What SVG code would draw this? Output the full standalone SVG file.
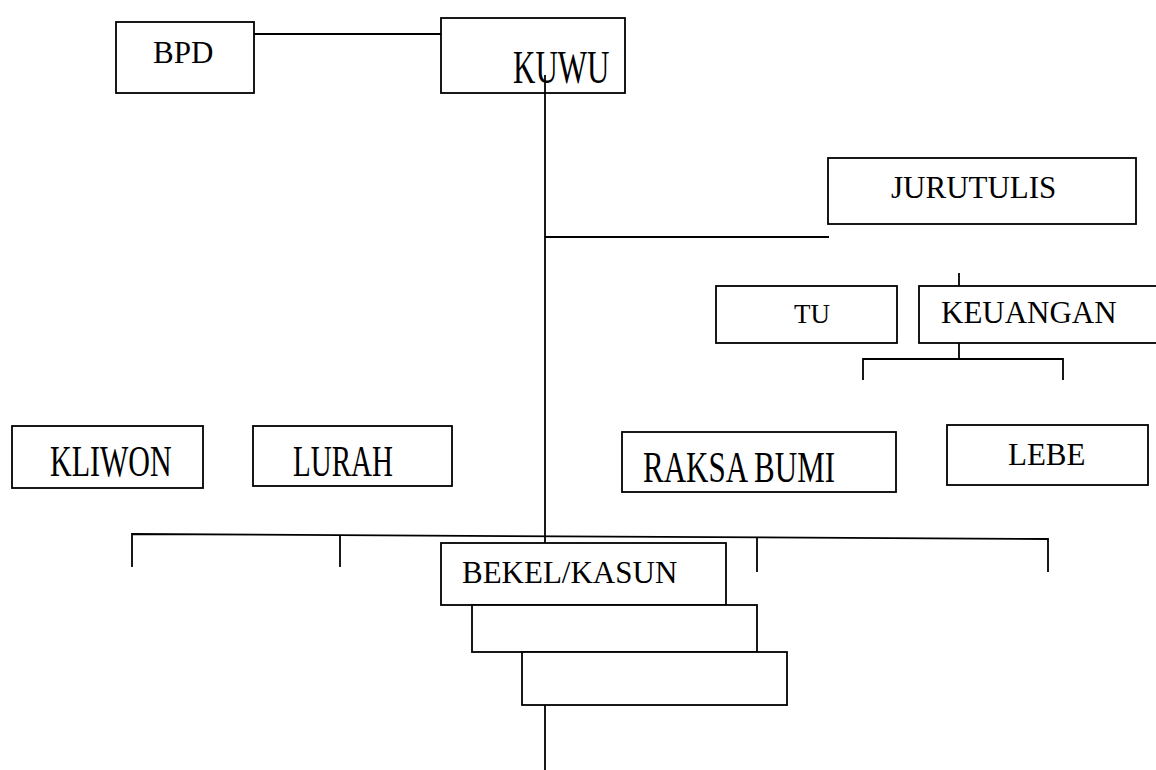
<svg xmlns="http://www.w3.org/2000/svg" width="1156" height="770" viewBox="0 0 1156 770">
<style>
.box{fill:#fff;stroke:#000;stroke-width:1.8}
.ln{fill:none;stroke:#000;stroke-width:1.8}
.t{font-family:"Liberation Serif","DejaVu Serif",serif;font-size:31px;fill:#000}
</style>
<rect width="1156" height="770" fill="#fff"/>
<g id="bpd"><rect class="box" x="116" y="22" width="138" height="71"/><text class="t" x="153" y="63">BPD</text></g>
<g id="kuwu"><rect class="box" x="441" y="18" width="184" height="75"/><text class="t" transform="translate(513,83) scale(1,1.5)">KUWU</text></g>
<g id="jurutulis"><rect class="box" x="828" y="158" width="308" height="66"/><text class="t" x="891" y="198">JURUTULIS</text></g>
<g id="tu"><rect class="box" x="716" y="286" width="181" height="57"/><text class="t" x="794" y="323" style="font-size:27px">TU</text></g>
<g id="keuangan"><rect class="box" x="919" y="286" width="245" height="57"/><text class="t" x="941" y="323">KEUANGAN</text></g>
<g id="kliwon"><rect class="box" x="12" y="426" width="191" height="62"/><text class="t" style="font-size:30px" transform="translate(50,476) scale(1,1.47)">KLIWON</text></g>
<g id="lurah"><rect class="box" x="253" y="426" width="199" height="60"/><text class="t" style="font-size:29px" transform="translate(293,476) scale(1,1.5)">LURAH</text></g>
<g id="raksabumi"><rect class="box" x="622" y="432" width="274" height="60"/><text class="t" transform="translate(643,482) scale(1,1.45)">RAKSA BUMI</text></g>
<g id="lebe"><rect class="box" x="947" y="425" width="201" height="60"/><text class="t" x="1008" y="465">LEBE</text></g>
<g id="bekel"><rect class="box" x="441" y="543" width="285" height="62"/><text class="t" x="462" y="583">BEKEL/KASUN</text></g>
<g id="box2"><rect class="box" x="472" y="605" width="285" height="47"/></g>
<g id="box3"><rect class="box" x="522" y="652" width="265" height="53"/></g>
<g id="connectors">
<line class="ln" x1="254" y1="34" x2="441" y2="34"/>
<line class="ln" x1="545" y1="75" x2="545" y2="543"/>
<line class="ln" x1="545" y1="237" x2="829" y2="237"/>
<line class="ln" x1="959" y1="273" x2="959" y2="286"/>
<line class="ln" x1="959" y1="343" x2="959" y2="359"/>
<polyline class="ln" points="863,380 863,359 1063,359 1063,380"/>
<polyline class="ln" points="132,567 132,534 1048,539 1048,572"/>
<line class="ln" x1="340" y1="535" x2="340" y2="567"/>
<line class="ln" x1="757" y1="538" x2="757" y2="572"/>
<line class="ln" x1="545" y1="705" x2="545" y2="770"/>
</g>
</svg>
